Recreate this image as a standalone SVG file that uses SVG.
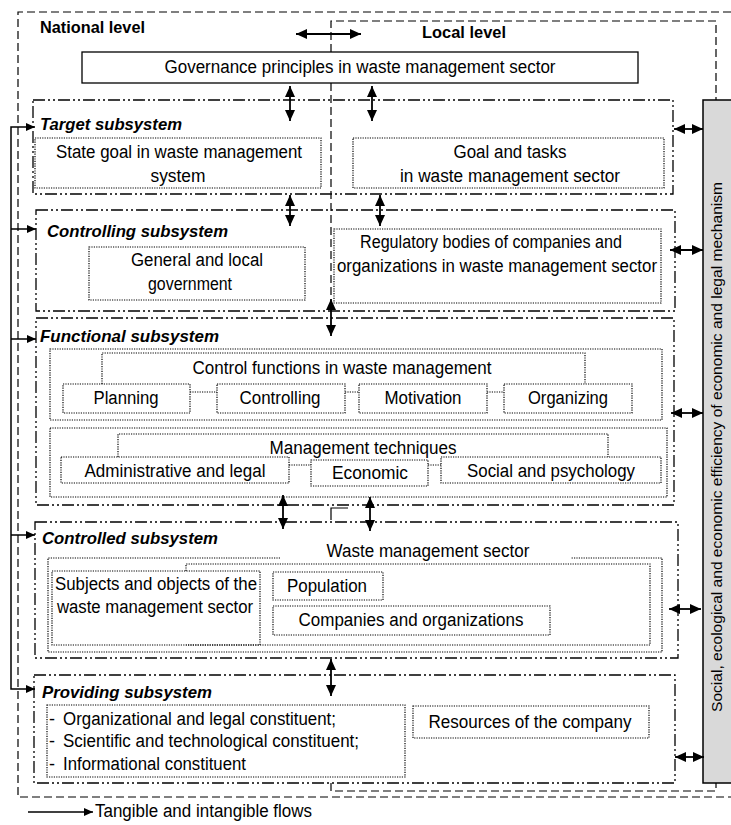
<svg xmlns="http://www.w3.org/2000/svg" width="731" height="825" viewBox="0 0 731 825">
<style>
.dash{fill:none;stroke:#000;stroke-width:1.2;stroke-dasharray:8 4}
.solid{fill:none;stroke:#000;stroke-width:1.2}
.sub{fill:none;stroke:#000;stroke-width:1.3;stroke-dasharray:12 3 2 3 2 3}
.dot{fill:none;stroke:#000;stroke-width:1.2;stroke-dasharray:1.2 1.2}
.t{font-family:"Liberation Sans Narrow","Arial Narrow","Liberation Sans",sans-serif;font-size:18px;fill:#000}
.b{font-weight:bold;font-size:17px}
.bi{font-weight:bold;font-style:italic;font-size:17px}
.m{text-anchor:middle}
.arr{fill:none;stroke:#000;stroke-width:1.8;marker-start:url(#ah);marker-end:url(#ah)}
.fb{fill:none;stroke:#000;stroke-width:1.5}
</style>
<defs>
<marker id="ah" markerUnits="userSpaceOnUse" markerWidth="11" markerHeight="10" refX="11" refY="5" orient="auto-start-reverse" viewBox="0 0 11 10">
<path d="M0,0 L11,5 L0,10 z" fill="#000"/>
</marker>
<marker id="sh" markerUnits="userSpaceOnUse" markerWidth="9" markerHeight="8" refX="9" refY="4" orient="auto-start-reverse" viewBox="0 0 9 8">
<path d="M0,0 L9,4 L0,8 z" fill="#000"/>
</marker>
</defs>
<rect width="731" height="825" fill="#fff"/>

<g id="levels">
<path class="dash" d="M731,12 H18 V797 H731"/>
<path class="dash" d="M331,52 V21 H716 V100"/>
<path class="dash" d="M331,83 V298"/>
<path class="solid" d="M331,520 V508 H348"/>
<path class="dash" d="M331,783 V791 H716 V783"/>
<text class="t b" x="40" y="33" textLength="105" lengthAdjust="spacingAndGlyphs">National level</text>
<text class="t b" x="422" y="38" textLength="84" lengthAdjust="spacingAndGlyphs">Local level</text>
</g>

<g id="governance">
<rect x="82" y="52" width="556" height="31" fill="none" stroke="#000" stroke-width="1.3"/>
<text class="t m" x="360" y="73" textLength="391" lengthAdjust="spacingAndGlyphs">Governance principles in waste management sector</text>
</g>

<g id="mechanism">
<rect x="703" y="100" width="40" height="683" fill="#d9d9d9" stroke="#000" stroke-width="1.5"/>
<text transform="translate(722,447) rotate(-90)" text-anchor="middle" font-family="Liberation Sans, Arial, sans-serif" font-size="15.5" textLength="530" lengthAdjust="spacingAndGlyphs">Social, ecological and economic efficiency of economic and legal mechanism</text>
</g>

<g id="target">
<rect class="sub" x="33" y="100" width="640" height="94"/>
<text class="t bi" x="40" y="130" textLength="142" lengthAdjust="spacingAndGlyphs">Target subsystem</text>
<g id="state-goal">
<rect class="dot" x="35" y="138" width="286" height="50"/>
<text class="t m" x="179" y="158" textLength="246" lengthAdjust="spacingAndGlyphs">State goal in waste management</text>
<text class="t m" x="178" y="182" textLength="55" lengthAdjust="spacingAndGlyphs">system</text>
</g>
<g id="goal-tasks">
<rect class="dot" x="353" y="138" width="311" height="50"/>
<text class="t m" x="510" y="158" textLength="113" lengthAdjust="spacingAndGlyphs">Goal and tasks</text>
<text class="t m" x="510" y="182" textLength="220" lengthAdjust="spacingAndGlyphs">in waste management sector</text>
</g>
</g>

<g id="controlling">
<rect class="sub" x="36" y="210" width="639" height="101"/>
<text class="t bi" x="47" y="237" textLength="181" lengthAdjust="spacingAndGlyphs">Controlling subsystem</text>
<g id="government">
<rect class="dot" x="89" y="247" width="216" height="53"/>
<text class="t m" x="197" y="266" textLength="132" lengthAdjust="spacingAndGlyphs">General and local</text>
<text class="t m" x="190" y="290" textLength="84" lengthAdjust="spacingAndGlyphs">government</text>
</g>
<g id="regulatory">
<rect class="dot" x="334" y="229" width="327" height="74"/>
<text class="t m" x="491" y="248" textLength="262" lengthAdjust="spacingAndGlyphs">Regulatory bodies of companies and</text>
<text class="t m" x="497" y="272" textLength="320" lengthAdjust="spacingAndGlyphs">organizations in waste management sector</text>
</g>
</g>

<g id="functional">
<rect class="sub" x="36" y="318" width="638" height="187" fill="#fff"/>
<text class="t bi" x="40" y="342" textLength="179" lengthAdjust="spacingAndGlyphs">Functional subsystem</text>
<g id="control-functions">
<rect class="dot" x="50" y="349" width="612" height="71"/>
<path class="dot" d="M102,384 V353 H585 V384"/>
<text class="t m" x="342" y="374" textLength="299" lengthAdjust="spacingAndGlyphs">Control functions in waste management</text>
<path class="dot" d="M190,392 H217 M345,392 H359 M487,392 H504"/>
<rect class="dot" x="63" y="384" width="127" height="29"/>
<text class="t m" x="126" y="404" textLength="65" lengthAdjust="spacingAndGlyphs">Planning</text>
<rect class="dot" x="217" y="384" width="128" height="29"/>
<text class="t m" x="280" y="404" textLength="81" lengthAdjust="spacingAndGlyphs">Controlling</text>
<rect class="dot" x="359" y="384" width="128" height="29"/>
<text class="t m" x="423" y="404" textLength="77" lengthAdjust="spacingAndGlyphs">Motivation</text>
<rect class="dot" x="504" y="384" width="128" height="29"/>
<text class="t m" x="568" y="404" textLength="80" lengthAdjust="spacingAndGlyphs">Organizing</text>
</g>
<g id="techniques">
<rect class="dot" x="50" y="428" width="617" height="69"/>
<path class="dot" d="M118,457 V434 H608 V457"/>
<text class="t m" x="363" y="454" textLength="187" lengthAdjust="spacingAndGlyphs">Management techniques</text>
<path class="dot" d="M289,465 H311 M428,465 H441"/>
<rect class="dot" x="61" y="457" width="228" height="26"/>
<text class="t m" x="175" y="477" textLength="181" lengthAdjust="spacingAndGlyphs">Administrative and legal</text>
<rect class="dot" x="311" y="460" width="117" height="26"/>
<text class="t m" x="370" y="479" textLength="76" lengthAdjust="spacingAndGlyphs">Economic</text>
<rect class="dot" x="441" y="457" width="220" height="26"/>
<text class="t m" x="551" y="477" textLength="168" lengthAdjust="spacingAndGlyphs">Social and psychology</text>
</g>
</g>

<g id="controlled">
<rect class="sub" x="35" y="522" width="643" height="136" fill="#fff"/>
<text class="t bi" x="42" y="544" textLength="176" lengthAdjust="spacingAndGlyphs">Controlled subsystem</text>
<g id="waste-sector">
<path class="dot" d="M280,558 H48 V652 H662 V558 H571"/>
<text class="t m" x="428" y="557" textLength="203" lengthAdjust="spacingAndGlyphs">Waste management sector</text>
<path class="dot" d="M186,571 V564 H650 V645 H186"/>
<rect class="dot" x="52" y="571" width="208" height="74"/>
<text class="t" x="55" y="590" textLength="202" lengthAdjust="spacingAndGlyphs">Subjects and objects of the</text>
<text class="t" x="57" y="613" textLength="196" lengthAdjust="spacingAndGlyphs">waste management sector</text>
<rect class="dot" x="273" y="572" width="110" height="28"/>
<text class="t m" x="327" y="592" textLength="80" lengthAdjust="spacingAndGlyphs">Population</text>
<rect class="dot" x="273" y="606" width="277" height="29"/>
<text class="t m" x="411" y="626" textLength="225" lengthAdjust="spacingAndGlyphs">Companies and organizations</text>
</g>
</g>

<g id="providing">
<rect class="sub" x="34" y="675" width="641" height="108" fill="#fff"/>
<text class="t bi" x="42" y="698" textLength="170" lengthAdjust="spacingAndGlyphs">Providing subsystem</text>
<g id="constituents">
<rect class="dot" x="47" y="705" width="358" height="72"/>
<text class="t" x="49" y="725">-</text>
<text class="t" x="63" y="725" textLength="273" lengthAdjust="spacingAndGlyphs">Organizational and legal constituent;</text>
<text class="t" x="49" y="747">-</text>
<text class="t" x="63" y="747" textLength="296" lengthAdjust="spacingAndGlyphs">Scientific and technological constituent;</text>
<text class="t" x="49" y="770">-</text>
<text class="t" x="63" y="770" textLength="183" lengthAdjust="spacingAndGlyphs">Informational constituent</text>
</g>
<g id="resources">
<rect class="dot" x="413" y="706" width="236" height="32"/>
<text class="t m" x="530" y="728" textLength="203" lengthAdjust="spacingAndGlyphs">Resources of the company</text>
</g>
</g>

<g id="connectors">
<line class="arr" x1="296" y1="34" x2="361" y2="34"/>
<line class="arr" x1="290" y1="86" x2="290" y2="121"/>
<line class="arr" x1="372" y1="86" x2="372" y2="121"/>
<line class="arr" x1="290" y1="195" x2="290" y2="226"/>
<line class="arr" x1="380" y1="195" x2="380" y2="226"/>
<line class="arr" x1="331" y1="299" x2="331" y2="336"/>
<line class="arr" x1="283" y1="495" x2="283" y2="529"/>
<line class="arr" x1="370" y1="497" x2="370" y2="531"/>
<line class="arr" x1="331" y1="659" x2="331" y2="696"/>
<line class="arr" x1="674" y1="129" x2="703" y2="129"/>
<line class="arr" x1="670" y1="250" x2="703" y2="250"/>
<line class="arr" x1="671" y1="413" x2="703" y2="413"/>
<line class="arr" x1="669" y1="609" x2="701" y2="609"/>
<line class="arr" x1="675" y1="757" x2="704" y2="757"/>
<path class="fb" d="M35,127 H11 V689 H35" marker-start="url(#sh)" marker-end="url(#sh)"/>
<line class="fb" x1="11" y1="229" x2="36" y2="229" marker-end="url(#sh)"/>
<line class="fb" x1="11" y1="339" x2="36" y2="339" marker-end="url(#sh)"/>
<line class="fb" x1="11" y1="535" x2="35" y2="535" marker-end="url(#sh)"/>
</g>

<g id="legend">
<line class="fb" x1="28" y1="812" x2="93" y2="812" marker-end="url(#sh)"/>
<text class="t" x="95" y="817" textLength="217" lengthAdjust="spacingAndGlyphs">Tangible and intangible flows</text>
</g>
</svg>
